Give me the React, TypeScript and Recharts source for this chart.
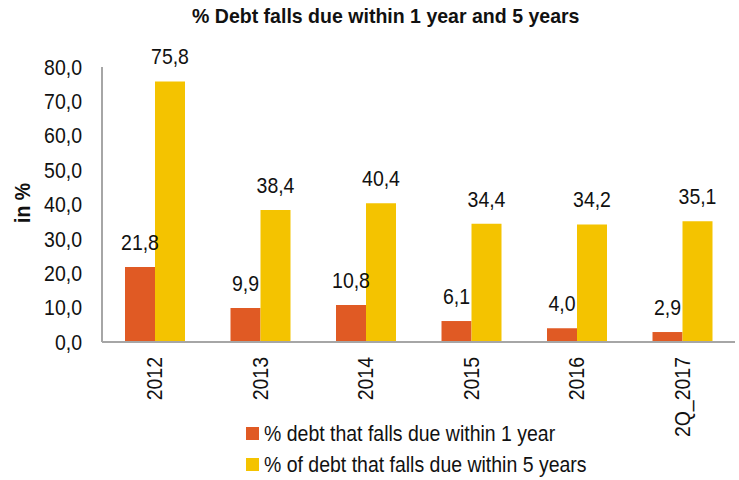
import { BarChart, Bar, XAxis, YAxis, Legend, LabelList, Label } from 'recharts';

const categories = ['2012', '2013', '2014', '2015', '2016', '2Q_2017'];
const dueWithin1Year = [21.8, 9.9, 10.8, 6.1, 4.0, 2.9];
const dueWithin5Years = [75.8, 38.4, 40.4, 34.4, 34.2, 35.1];
const yTicks = [0, 10, 20, 30, 40, 50, 60, 70, 80];

const seriesNames = {
  oneYear: '% debt that falls due within 1 year',
  fiveYears: '% of debt that falls due within 5 years',
};

const colors = {
  oneYear: '#E05A24',
  fiveYears: '#F4C300',
  axis: '#A6A6A6',
  text: '#111111',
};

const FONT = "'Liberation Sans', Arial, sans-serif";
const FS = 22;
// 元の図は幅の狭いフォントなので横方向に縮める
const SX = 0.885;

const data = categories.map((name, i) => ({
  name,
  oneYear: dueWithin1Year[i],
  fiveYears: dueWithin5Years[i],
}));

// 小数点はカンマ表記
const fmt = (v: number) => Number(v).toFixed(1).replace('.', ',');

function YTick(props: any) {
  const { x, y, payload } = props;
  return (
    <g transform={`translate(${x},${y}) scale(${SX},1)`}>
      <text textAnchor="end" dy="0.35em" fontSize={FS} fill={colors.text}>
        {fmt(payload.value)}
      </text>
    </g>
  );
}

function RotatedTick(props: any) {
  const { x, y, payload } = props;
  return (
    <g transform={`translate(${x},${y}) rotate(-90) translate(-15,0) scale(${SX},1)`}>
      <text textAnchor="end" dy="0.35em" fontSize={FS} fill={colors.text}>
        {payload.value}
      </text>
    </g>
  );
}

function BarValue(props: any) {
  const { x, y, width, value } = props;
  return (
    <g transform={`translate(${Number(x) + Number(width) / 2},${Number(y) - 17}) scale(${SX},1)`}>
      <text textAnchor="middle" fontSize={FS} fill={colors.text}>
        {fmt(value)}
      </text>
    </g>
  );
}

function LegendContent() {
  const items = [
    { key: 'oneYear', label: seriesNames.oneYear, color: colors.oneYear },
    { key: 'fiveYears', label: seriesNames.fiveYears, color: colors.fiveYears },
  ];
  return (
    <div style={{ height: 62, width: 360 }}>
      {items.map((it) => (
        <div key={it.key} style={{ display: 'flex', alignItems: 'center', height: 31 }}>
          <span style={{ width: 13, height: 13, background: it.color, marginRight: 5, flex: 'none' }} />
          <span
            style={{
              display: 'inline-block',
              fontSize: FS,
              color: colors.text,
              lineHeight: '31px',
              whiteSpace: 'nowrap',
              transform: `scaleX(${SX})`,
              transformOrigin: 'left center',
            }}
          >
            {it.label}
          </span>
        </div>
      ))}
    </div>
  );
}

export default function App() {
  return (
    <div style={{ position: 'absolute', left: 0, top: 0, width: 739, height: 480, fontFamily: FONT, background: '#fff' }}>
      <div
        style={{
          position: 'absolute',
          left: 192,
          top: 5,
          fontWeight: 'bold',
          fontSize: 21,
          lineHeight: '21px',
          whiteSpace: 'nowrap',
          color: colors.text,
          transform: 'scaleX(0.93)',
          transformOrigin: 'left top',
        }}
      >
        % Debt falls due within 1 year and 5 years
      </div>
      <BarChart
        width={739}
        height={480}
        data={data}
        margin={{ top: 67, right: 4, left: 0, bottom: 0 }}
        barGap={0}
      >
        <XAxis
          dataKey="name"
          axisLine={{ stroke: colors.axis, strokeWidth: 2 }}
          tickLine={false}
          tickSize={0}
          tickMargin={0}
          height={76}
          interval={0}
          tick={<RotatedTick />}
        />
        <YAxis
          domain={[0, 80]}
          ticks={yTicks}
          width={102}
          axisLine={{ stroke: colors.axis, strokeWidth: 2 }}
          tickLine={false}
          tickSize={0}
          tickMargin={20}
          tick={<YTick />}
        >
          <Label
            content={() => (
              <g transform={`translate(22,203) rotate(-90) scale(${SX},1)`}>
                <text textAnchor="middle" dy="0.35em" fontSize={FS} fontWeight="bold" fill={colors.text}>
                  in %
                </text>
              </g>
            )}
          />
        </YAxis>
        <Legend
          verticalAlign="bottom"
          align="center"
          layout="vertical"
          wrapperStyle={{ left: 246, width: 'auto' }}
          content={<LegendContent />}
        />
        <Bar dataKey="oneYear" name={seriesNames.oneYear} fill={colors.oneYear} barSize={30} isAnimationActive={false}>
          <LabelList dataKey="oneYear" content={<BarValue />} />
        </Bar>
        <Bar dataKey="fiveYears" name={seriesNames.fiveYears} fill={colors.fiveYears} barSize={30} isAnimationActive={false}>
          <LabelList dataKey="fiveYears" content={<BarValue />} />
        </Bar>
      </BarChart>
    </div>
  );
}
